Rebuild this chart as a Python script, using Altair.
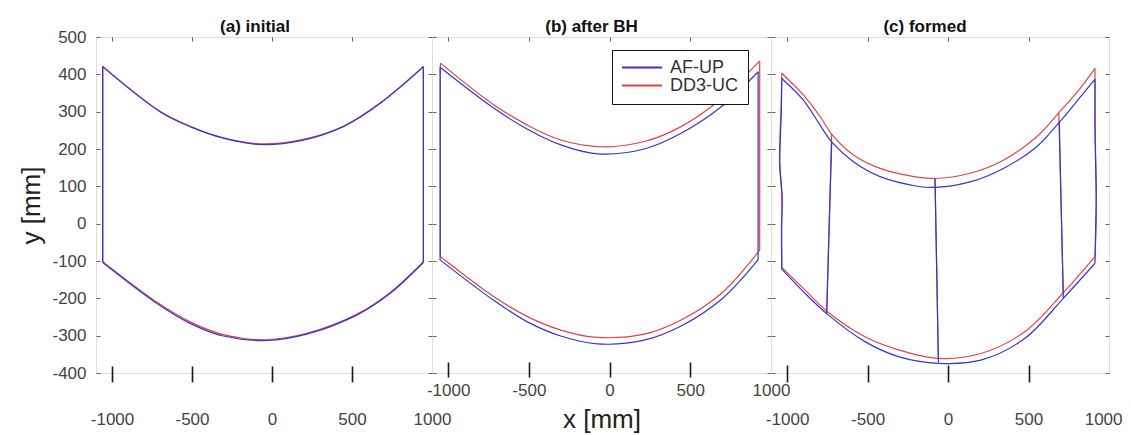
import altair as alt
import pandas as pd

SERIES = ["AF-UP", "DD3-UC"]
COLORS = ["#3535d2", "#e04444"]
PANEL_TITLES = ["(a) initial", "(b) after BH", "(c) formed"]
X_TICKS = [-1000, -500, 0, 500, 1000]
X_MINOR = [-1000, -500, 0, 500]
Y_TICKS = [500, 400, 300, 200, 100, 0, -100, -200, -300, -400]

# ---- panel (a) initial ----
A_BLUE_TOP = [(-1058, 420), (-700, 300), (-512, 260), (-304, 229), (-75, 212),
              (196, 224), (446, 260), (675, 322), (946, 420)]
A_RED_TOP = [(-1058, 422), (-700, 301), (-512, 261), (-304, 230), (-75, 214),
             (196, 226), (446, 261), (675, 323), (946, 421)]
A_BLUE_BOT = [(-1058, -104), (-721, -213), (-512, -267), (-304, -301), (-33, -313),
              (217, -296), (529, -245), (737, -187), (946, -104)]
A_RED_BOT = [(-1058, -102), (-721, -210), (-512, -263), (-304, -297), (-33, -311),
             (217, -294), (529, -243), (737, -185), (946, -102)]

# ---- panel (b) after BH ----
B_BLUE_TOP = [(-1050, 419), (-716, 309), (-509, 253), (-302, 211), (-75, 187),
              (215, 200), (443, 242), (692, 313), (920, 407)]
B_RED_TOP = [(-1048, 430), (-716, 318), (-509, 264), (-302, 224), (-54, 206),
             (215, 220), (443, 260), (671, 327), (930, 436)]
B_BLUE_BOT = [(-1050, -97), (-716, -206), (-509, -263), (-302, -301), (-75, -322),
              (215, -312), (443, -274), (692, -203), (920, -97)]
B_RED_BOT = [(-1048, -88), (-716, -196), (-509, -249), (-302, -285), (-95, -304),
             (215, -296), (443, -258), (692, -187), (930, -71)]

# ---- panel (c) formed ----
C_BLUE_TOP = [(-1033, 389), (-899, 331), (-795, 264), (-723, 219), (-588, 166),
              (-422, 126), (-236, 104), (-112, 97), (137, 112), (344, 148),
              (551, 206), (696, 274), (820, 338), (913, 387)]
C_RED_TOP = [(-1033, 403), (-899, 345), (-795, 287), (-723, 240), (-588, 184),
             (-422, 148), (-236, 128), (-81, 121), (137, 135), (344, 170),
             (551, 233), (688, 297), (820, 362), (913, 416)]
C_BLUE_BOT = [(-1033, -122), (-888, -187), (-743, -245), (-516, -316), (-309, -356),
              (-60, -374), (209, -365), (478, -307), (716, -200), (913, -106)]
C_RED_BOT = [(-1033, -117), (-888, -178), (-743, -238), (-516, -303), (-309, -338),
             (-60, -361), (209, -347), (478, -289), (716, -185), (913, -88)]
C_BLUE_LEFT = [(-1033, 389), (-1036, 300), (-1040, 251), (-1045, 162),
               (-1031, 72), (-1034, -17), (-1033, -122)]
C_RED_LEFT = [(-1033, 403), (-1038, 300), (-1043, 250), (-1047, 160),
              (-1032, 70), (-1035, -15), (-1033, -117)]
C_BLUE_RIGHT = [(913, 387), (913, 251), (920, 72), (917, -17), (913, -106)]
C_RED_RIGHT = [(913, 416), (914, 251), (922, 72), (919, -17), (913, -88)]
C_BLUE_INNER = [[(-723, 219), (-754, -242)], [(-81, 121), (-60, -372)],
                [(691, 274), (716, -200)]]
C_RED_INNER = [[(-723, 240), (-754, -236)], [(-81, 121), (-60, -361)],
               [(688, 297), (716, -186)]]


def segs_closed(top, bot):
    return {"top": top, "bot": bot,
            "left": [top[0], bot[0]], "right": [top[-1], bot[-1]]}


PANEL_DATA = [
    {"AF-UP": segs_closed(A_BLUE_TOP, A_BLUE_BOT),
     "DD3-UC": segs_closed(A_RED_TOP, A_RED_BOT)},
    {"AF-UP": segs_closed(B_BLUE_TOP, B_BLUE_BOT),
     "DD3-UC": segs_closed(B_RED_TOP, B_RED_BOT)},
    {"AF-UP": dict({"top": C_BLUE_TOP, "bot": C_BLUE_BOT,
                    "left": C_BLUE_LEFT, "right": C_BLUE_RIGHT},
                   **{f"in{i}": s for i, s in enumerate(C_BLUE_INNER)}),
     "DD3-UC": dict({"top": C_RED_TOP, "bot": C_RED_BOT,
                     "left": C_RED_LEFT, "right": C_RED_RIGHT},
                    **{f"in{i}": s for i, s in enumerate(C_RED_INNER)})},
]


def frame(panel_segs, series):
    rows = []
    for seg, pts in panel_segs[series].items():
        for i, (x, y) in enumerate(pts):
            rows.append({"series": series, "seg": seg, "i": i, "x": x, "y": y})
    return pd.DataFrame(rows)


FONT = "Liberation Sans"
xscale = alt.Scale(domain=[-1100, 1000], nice=False, zero=False)
yscale = alt.Scale(domain=[-400, 500], nice=False, zero=False)
cscale = alt.Scale(domain=SERIES, range=COLORS)

PANEL_W = [336, 339, 338]
TICK_OFF = [-7, -11, -8]
TICK_LEN = [16, 15, 17]
LAB_PAD = [29, 5, 29]
TITLE_DX = [-9, -10, -15]
TITLE_OFF = [-8, 1, 1]
PLAIN_LABEL = "'' + datum.value"


def panel(k):
    segs = PANEL_DATA[k]
    if k == 1:
        legend = alt.Legend(orient="none", legendX=180, legendY=13, title=None,
                            symbolType="stroke", symbolSize=1600,
                            symbolStrokeWidth=2, labelFontSize=18,
                            labelFont=FONT, labelColor="#333",
                            strokeColor="#111", fillColor="white",
                            padding=9, clipHeight=17, rowPadding=-4,
                            labelOffset=7, cornerRadius=0)
    else:
        legend = None
    flush_kw = ({"labelFlush": True, "labelFlushOffset": 13} if k == 2
                else {"labelFlush": False})
    bottom_axis = alt.Axis(
        values=X_TICKS, orient="bottom", domain=False, grid=False,
        labelExpr=PLAIN_LABEL,
        tickSize=TICK_LEN[k], tickWidth=1.6, tickColor="#1a1a1a",
        tickOpacity=alt.condition("datum.value == 1000", alt.value(0), alt.value(1)),
        offset=TICK_OFF[k], labelPadding=LAB_PAD[k], labelFontSize=17,
        labelFont=FONT, labelColor="#444", labelOverlap=False,
        title="x [mm]" if k == 1 else None, titleFont=FONT, titleFontSize=26,
        titleFontWeight="normal", titleColor="#222", titlePadding=8, **flush_kw)
    top_axis = alt.Axis(values=X_MINOR, orient="top", domain=False, grid=False,
                        labels=False, tickSize=4, offset=-4, tickColor="#666",
                        title=None)
    if k == 0:
        left_axis = alt.Axis(values=Y_TICKS, orient="left", domain=False,
                             grid=False, tickSize=4, offset=-4, tickColor="#666",
                             labelExpr=PLAIN_LABEL,
                             labelPadding=10, labelFontSize=17, labelFont=FONT,
                             labelColor="#444", labelOverlap=False,
                             title="y [mm]", titleFont=FONT, titleFontSize=26,
                             titleFontWeight="normal", titleColor="#222",
                             titlePadding=7)
    else:
        left_axis = alt.Axis(values=Y_TICKS, orient="left", domain=False,
                             grid=False, tickSize=4, offset=-4, tickColor="#666",
                             labels=False, title=None)
    right_axis = alt.Axis(values=Y_TICKS, orient="right", domain=False,
                          grid=False, tickSize=4, offset=-4, tickColor="#666",
                          labels=False, title=None)

    red = alt.Chart(frame(segs, "DD3-UC")).mark_line(
        strokeWidth=1.2, interpolate="catmull-rom", clip=True).encode(
        x=alt.X("x:Q", scale=xscale, axis=bottom_axis),
        y=alt.Y("y:Q", scale=yscale, axis=left_axis),
        color=alt.Color("series:N", scale=cscale, legend=legend),
        detail="seg:N", order="i:Q")
    blue = alt.Chart(frame(segs, "AF-UP")).mark_line(
        strokeWidth=1.2, interpolate="catmull-rom", clip=True).encode(
        x=alt.X("x:Q", scale=xscale, axis=top_axis),
        y=alt.Y("y:Q", scale=yscale, axis=right_axis),
        color=alt.Color("series:N", scale=cscale, legend=legend),
        detail="seg:N", order="i:Q")
    return alt.layer(red, blue).resolve_axis(
        x="independent", y="independent").properties(
        width=PANEL_W[k], height=336,
        title=alt.TitleParams(PANEL_TITLES[k], font=FONT, fontSize=17,
                              fontWeight="bold", color="#111",
                              offset=TITLE_OFF[k], dx=TITLE_DX[k]))


chart = alt.hconcat(panel(0), panel(1), panel(2), spacing=0, bounds="flush",
                    padding={"left": 10, "top": 9, "right": 0, "bottom": 0}
                    ).resolve_scale(color="independent").configure_view(
    stroke="#8c8c8c", strokeWidth=1).configure(background="white")

chart.save("out.html", embed_options={"renderer": "svg", "actions": False})
